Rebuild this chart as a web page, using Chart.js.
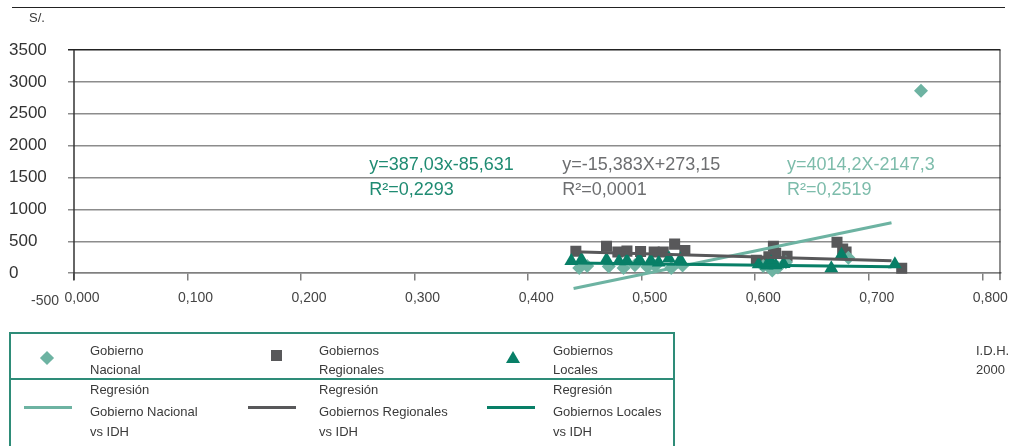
<!DOCTYPE html>
<html>
<head>
<meta charset="utf-8">
<script src="https://cdn.jsdelivr.net/npm/chart.js@4.4.0/dist/chart.umd.min.js"></script>
<style>
  html, body { margin: 0; padding: 0; background: #fff; }
  body { width: 1010px; height: 446px; position: relative; overflow: hidden;
         font-family: "Liberation Sans", Arial, sans-serif; color: #3a3a3a; }
  #chart { position: absolute; left: 0; top: 0; }
  .rule  { position: absolute; left: 12px; top: 7px; width: 993px; border-top: 1.5px solid #222; }
  .unit  { position: absolute; left: 29px; top: 10px; font-size: 13px; }
  .xtitle { position: absolute; left: 976px; top: 341px; font-size: 13px; line-height: 19px; }
  .legend { position: absolute; left: 9px; top: 332px; width: 666px; height: 140px;
            border: 2px solid #2e8c78; box-sizing: border-box; }
  .legend .sep { position: absolute; left: 0; right: 0; top: 44px; border-top: 2px solid #2e8c78; }
  .lt { position: absolute; font-size: 13px; line-height: 19px; white-space: nowrap; }
  .mk { position: absolute; }
  .diamond { width: 10px; height: 10px; transform: rotate(45deg); }
  .square { width: 11px; height: 11px; }
  .tri { width: 0; height: 0; border-left: 7px solid transparent; border-right: 7px solid transparent; border-bottom: 12px solid; }
  .ln { position: absolute; height: 3px; width: 48px; }
</style>
</head>
<body>
<canvas id="chart" width="1010" height="446"></canvas>
<div class="rule"></div>
<div class="unit">S/.</div>
<div class="xtitle">I.D.H.<br>2000</div>

<div class="legend"><div class="sep"></div></div>
<!-- row 1: markers -->
<div class="mk diamond" style="left:42px;top:353px;background:#6db3a2"></div>
<div class="lt" style="left:90px;top:341px">Gobierno<br>Nacional</div>
<div class="mk square" style="left:271px;top:350px;background:#58585a"></div>
<div class="lt" style="left:319px;top:341px">Gobiernos<br>Regionales</div>
<div class="mk tri" style="left:506px;top:351px;border-bottom-color:#087f67"></div>
<div class="lt" style="left:553px;top:341px">Gobiernos<br>Locales</div>
<!-- row 2: regression lines -->
<div class="ln" style="left:24px;top:406px;background:#6db3a2"></div>
<div class="lt" style="left:90px;top:380px">Regresión</div>
<div class="lt" style="left:90px;top:402px;line-height:20px">Gobierno Nacional<br>vs IDH</div>
<div class="ln" style="left:248px;top:406px;background:#58585a"></div>
<div class="lt" style="left:319px;top:380px">Regresión</div>
<div class="lt" style="left:319px;top:402px;line-height:20px">Gobiernos Regionales<br>vs IDH</div>
<div class="ln" style="left:487px;top:406px;background:#087f67"></div>
<div class="lt" style="left:553px;top:380px">Regresión</div>
<div class="lt" style="left:553px;top:402px;line-height:20px">Gobiernos Locales<br>vs IDH</div>

<script>
// ---- data ----
// I.D.H. 2000 (x) vs S/. per capita (y)
const nacionalIdh   = [0.445, 0.452, 0.471, 0.484, 0.494, 0.505, 0.512, 0.526, 0.536, 0.607, 0.615, 0.620, 0.627, 0.682, 0.746]
const nacionalSoles = [80, 110, 105, 80, 125, 95, 110, 80, 120, 110, 40, 90, 170, 240, 2860]

const regionalIdh   = [0.442, 0.469, 0.479, 0.487, 0.499, 0.511, 0.519, 0.529, 0.538, 0.601, 0.609, 0.612, 0.616, 0.618, 0.628, 0.672, 0.677, 0.680, 0.729]
const regionalSoles = [344, 420, 330, 345, 340, 330, 330, 455, 355, 200, 170, 255, 420, 310, 265, 485, 380, 330, 78]

const localIdh   = [0.438, 0.447, 0.469, 0.480, 0.487, 0.498, 0.508, 0.515, 0.524, 0.534, 0.603, 0.610, 0.614, 0.618, 0.625, 0.667, 0.676, 0.723]
const localSoles = [190, 215, 215, 185, 200, 215, 200, 165, 235, 215, 140, 120, 170, 125, 145, 75, 290, 140]

// regression lines, start / end
const fitIdh        = [0.44, 0.72]
const fitNacional   = [-240, 790]
const fitRegional   = [335, 195]
const fitLocal      = [160, 100]

const eqLabels = ['y=387,03x-85,631', 'y=-15,383X+273,15', 'y=4014,2X-2147,3']
const r2Labels = ['R²=0,2293', 'R²=0,0001', 'R²=0,2519']

const yTicks = [-500, 0, 500, 1000, 1500, 2000, 2500, 3000, 3500]

// ---- style ----
const C_NAC = '#6db3a2'
const C_REG = '#58585a'
const C_LOC = '#087f67'
const EQ_COLORS = ['#1f8b72', '#6d6e70', '#7dbcab']
const EQ_POS = [0.260, 0.430, 0.628]   // left edge of each label, in x units
const FONT = '"Liberation Sans", Arial, sans-serif'

const pts = (xs, ys) => xs.map((x, i) => ({ x, y: ys[i] }))

// axis lines, frame, "-500" label and equation labels
const decor = {
  id: 'decor',
  beforeDatasetsDraw(chart) {
    const { ctx, chartArea: a, scales: { x, y } } = chart
    const y0 = y.getPixelForValue(0)
    ctx.save()
    ctx.strokeStyle = '#333'
    ctx.lineWidth = 1.5
    ctx.beginPath()
    ctx.moveTo(x.getPixelForValue(0), a.top)
    ctx.lineTo(x.getPixelForValue(0), y0 + 7)
    ctx.stroke()
    ctx.strokeStyle = '#222'
    ctx.lineWidth = 1
    ctx.beginPath()
    ctx.moveTo(a.right - 0.5, a.top)
    ctx.lineTo(a.right - 0.5, y0 + 7)
    ctx.stroke()

    ctx.font = `14px ${FONT}`
    ctx.fillStyle = '#444'
    ctx.textBaseline = 'middle'
    ctx.textAlign = 'left'
    ctx.fillText(String(yTicks[0]), 31, y.getPixelForValue(yTicks[0]) - 4)

    ctx.font = `18px ${FONT}`
    eqLabels.forEach((t, i) => {
      ctx.fillStyle = EQ_COLORS[i]
      ctx.fillText(t, x.getPixelForValue(EQ_POS[i]), y.getPixelForValue(1690))
      ctx.fillText(r2Labels[i], x.getPixelForValue(EQ_POS[i]), y.getPixelForValue(1300))
    })
    ctx.restore()
  }
}

new Chart(document.getElementById('chart'), {
  type: 'scatter',
  data: {
    datasets: [
      { label: 'Gobiernos Regionales', data: pts(regionalIdh, regionalSoles), order: 6,
        pointStyle: 'rect', pointRadius: 7.8, backgroundColor: C_REG, borderWidth: 0 },
      { label: 'Gobierno Nacional', data: pts(nacionalIdh, nacionalSoles), order: 5,
        pointStyle: 'rectRot', pointRadius: 7, backgroundColor: C_NAC, borderWidth: 0 },
      { label: 'Gobiernos Locales', data: pts(localIdh, localSoles), order: 4,
        pointStyle: 'triangle', pointRadius: 8, backgroundColor: C_LOC, borderWidth: 0 },
      { label: 'Regresión Gobierno Nacional vs IDH', data: pts(fitIdh, fitNacional), order: 3,
        showLine: true, pointRadius: 0, borderColor: C_NAC, borderWidth: 3 },
      { label: 'Regresión Gobiernos Regionales vs IDH', data: pts(fitIdh, fitRegional), order: 2,
        showLine: true, pointRadius: 0, borderColor: C_REG, borderWidth: 3 },
      { label: 'Regresión Gobiernos Locales vs IDH', data: pts(fitIdh, fitLocal), order: 1,
        showLine: true, pointRadius: 0, borderColor: C_LOC, borderWidth: 3 },
    ]
  },
  options: {
    responsive: false,
    animation: false,
    layout: { padding: { left: 9, top: 50, right: 8, bottom: 141 } },
    plugins: { legend: { display: false }, tooltip: { enabled: false } },
    scales: {
      x: {
        type: 'linear',
        position: { y: 0 },
        min: 0, max: 0.816,
        ticks: {
          stepSize: 0.1, includeBounds: false, padding: 10, labelOffset: 8,
          color: '#444', font: { family: FONT, size: 14 },
          callback: v => v.toFixed(3).replace('.', ','),
        },
        grid: { drawOnChartArea: false, drawTicks: true, tickLength: 7, color: '#808080', lineWidth: 1.5 },
        border: { display: true, color: '#808080', width: 1.5 },
      },
      y: {
        min: yTicks[0], max: yTicks[yTicks.length - 1],
        afterFit: s => { s.width = 65 },
        afterBuildTicks: s => { s.ticks = yTicks.map(value => ({ value })) },
        ticks: {
          crossAlign: 'far', color: '#333', font: { family: FONT, size: 17 },
          callback: v => (v === yTicks[0] ? '' : String(v)),
        },
        grid: {
          tickLength: 6, lineWidth: 1.5,
          color: c => c.tick.value === yTicks[0] ? 'rgba(0,0,0,0)'
                    : c.tick.value === yTicks[yTicks.length - 1] ? '#222' : '#8c8c8c',
        },
        border: { display: false },
      },
    },
  },
  plugins: [decor],
})
</script>
</body>
</html>
